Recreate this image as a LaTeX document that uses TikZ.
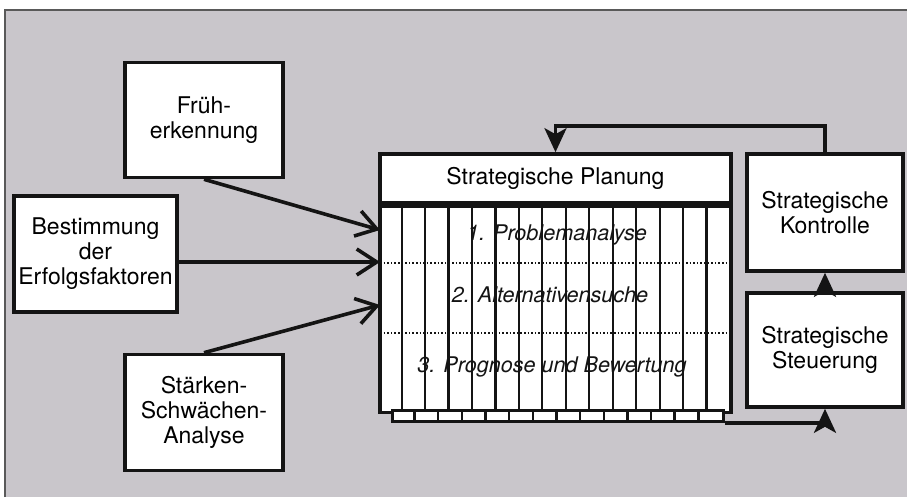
\documentclass[tikz,border=0pt]{standalone}
\usepackage{fontspec}
\setmainfont{TeX Gyre Heros}
\usetikzlibrary{arrows.meta, positioning, calc}
\definecolor{bggray}{RGB}{201,198,203}
\definecolor{inkline}{RGB}{20,20,20}
\tikzset{
    base/.style={font=\fontsize{11.5}{12.5}\selectfont, line width=1.8pt, draw=inkline},
    box/.style={rectangle, draw=inkline, fill=white, line width=1.8pt, align=center, inner sep=1pt},
    phase/.style={font=\fontsize{10.8}{12.5}\selectfont\itshape, text=inkline},
    arr/.style={draw=inkline, line width=1.8pt, -{Straight Barb[length=10pt, width=13pt, line width=1.8pt]}},
    fback/.style={draw=inkline, line width=1.8pt, -{Stealth[length=12pt, width=11pt, inset=3pt]}},
}

\begin{document}
\begin{tikzpicture}[base, x=0.5pt, y=-0.5pt]
\useasboundingbox (0,0) rectangle (907,504);

% ===================== BACKGROUND =====================
\fill[bggray] (5,10) rectangle (907,497);
\draw[line width=1.2pt, black!65] (5,497) -- (5,10) -- (907,10);

% ===================== INPUTS =====================
\node[box, minimum width=79pt, minimum height=57.5pt] (frueh) at (204,120) {Früh-\\erkennung};
\node[box, minimum width=81.5pt, minimum height=58pt] (bestimm) at (95.5,254) {Bestimmung\\der\\Erfolgsfaktoren};
\node[box, minimum width=79pt, minimum height=58pt] (staerken) at (204,412.5) {Stärken-\\Schwächen-\\Analyse};

% ===================== PLANNING =====================
\node[box, minimum width=175.5pt, minimum height=24.5pt] (plan) at (555.5,178.5) {Strategische Planung};
\node[box, minimum width=175.5pt, minimum height=103pt, below=0pt of plan] (body) {};

\foreach \i in {1,...,14}
    \draw[line width=1.1pt] ($(body.north west)+(\i*23.45,0)$) -- ($(body.south west)+(\i*23.45,0)$);
\draw[densely dotted, line width=0.8pt] (380,263) -- (731,263);
\draw[densely dotted, line width=0.8pt] (380,333) -- (731,333);

\node[phase] (p1) at (557,235) {1. Problemanalyse};
\node[phase] (p2) at (550,295) {2. Alternativensuche};
\node[phase] (p3) at (552,367) {3. Prognose und Bewertung};

% comb strip below the planning box
\node[rectangle, draw=inkline, fill=white, line width=1.5pt, minimum width=165.5pt, minimum height=5.5pt, inner sep=0pt, anchor=north west] (comb) at (391,409) {};
\foreach \i in {1,...,13}
    \draw[line width=1.2pt] ($(comb.north west)+(\i*23.64,0)$) -- ($(comb.south west)+(\i*23.64,0)$);

% ===================== CONTROL =====================
\node[box, minimum width=78pt, minimum height=58.5pt] (kontr) at (825,212.5) {Strategische\\Kontrolle};
\node[box, minimum width=78pt, minimum height=57pt] (steuer) at (825,350) {Strategische\\Steuerung};

% ===================== CONNECTORS =====================
\coordinate (e1) at (380,230);
\coordinate (e2) at (380,262);
\coordinate (e3) at (380,305);
\draw[arr] (frueh.south) -- (e1);
\draw[arr] (bestimm.east |- e2) -- (e2);
\draw[arr] (staerken.north) -- (e3);

\draw[fback] (kontr.north) -- ++(0,-26) -| (plan.north);
\draw[fback] (steuer.north) -- (kontr.south);
\draw[fback] (comb.south east) -| (steuer.south);

\end{tikzpicture}
\end{document}
